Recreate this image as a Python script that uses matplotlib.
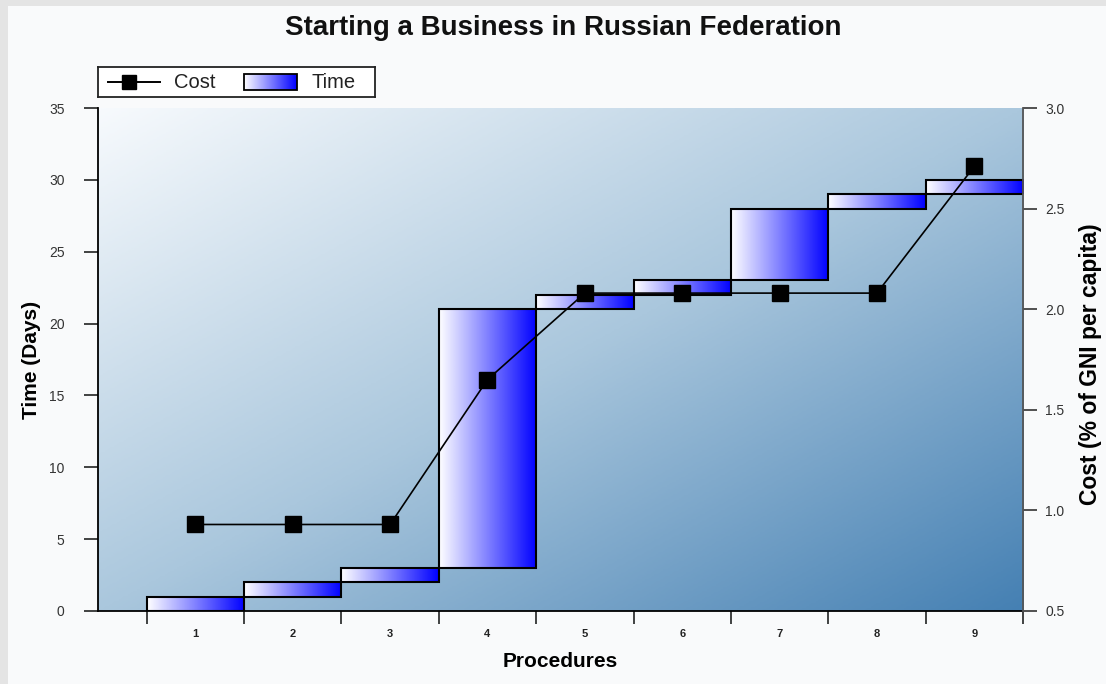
import numpy as np
import matplotlib.pyplot as plt
from matplotlib.colors import LinearSegmentedColormap
from matplotlib.patches import Rectangle

plt.rcParams['font.family'] = ['Liberation Sans', 'DejaVu Sans']

# procedures and their time spans (days) plus cumulative cost (% of GNI per capita)
procedures = [1, 2, 3, 4, 5, 6, 7, 8, 9]
time_start = [0, 1, 2, 3, 21, 22, 23, 28, 29]
time_end = [1, 2, 3, 21, 22, 23, 28, 29, 30]
cost = [0.93, 0.93, 0.93, 1.65, 2.08, 2.08, 2.08, 2.08, 2.71]

time_ticks = [0, 5, 10, 15, 20, 25, 30, 35]
cost_ticks = [0.5, 1.0, 1.5, 2.0, 2.5, 3.0]

bar_cmap = LinearSegmentedColormap.from_list('bar', ['#ffffff', '#0000ff'])
bg_cmap = LinearSegmentedColormap.from_list('bg', ['#f7fafd', '#aac7dd', '#4580b3'])

fig = plt.figure(figsize=(11.06, 6.84), dpi=100, facecolor='#f9fafb')
# grey frame strips on the left and top
fig.patches.append(Rectangle((0, 0), 8 / 1106, 1, transform=fig.transFigure,
                             facecolor='#e4e4e4', edgecolor='none', zorder=-5))
fig.patches.append(Rectangle((0, 1 - 6 / 684), 1, 6 / 684, transform=fig.transFigure,
                             facecolor='#e4e4e4', edgecolor='none', zorder=-5))

ax = fig.add_axes([98 / 1106, 1 - 611 / 684, 925 / 1106, 503 / 684])

# diagonal background shading of the plot area
u = np.linspace(0, 1, 400)[None, :]
v = np.linspace(0, 1, 300)[:, None]
ax.imshow((u + v) / 2, cmap=bg_cmap, vmin=0, vmax=1, aspect='auto',
          extent=(0, 1, 0, 1), transform=ax.transAxes, zorder=0, origin='upper')

# floating time bars with a white-to-blue fill
heights = [e - s for s, e in zip(time_start, time_end)]
bars = ax.bar(procedures, heights, bottom=time_start, width=1.0,
              facecolor='none', edgecolor='black', linewidth=1.5, zorder=3)
grad = np.linspace(0, 1, 256)[None, :]
for b in bars:
    x0, y0 = b.get_x(), b.get_y()
    ax.imshow(grad, cmap=bar_cmap, aspect='auto', zorder=2,
              extent=(x0, x0 + b.get_width(), y0, y0 + b.get_height()))

ax.set_xlim(0, 9.5)
ax.set_ylim(0, 35)
ax.set_yticks(time_ticks)
ax.set_xticks(np.arange(0.5, 10, 1.0))
ax.set_xticklabels([])
ax.set_xticks(procedures, minor=True)
ax.set_xticklabels([str(p) for p in procedures], minor=True,
                   fontsize=8, fontweight='bold', color='#222222')
ax.tick_params(axis='x', which='major', direction='out', length=9, width=1.2, color='#222222')
ax.tick_params(axis='x', which='minor', length=0, pad=13)
ax.tick_params(axis='y', direction='out', length=10, width=1.2, color='#222222',
               labelsize=10, labelcolor='#333333', pad=14)
for s in ['top', 'right']:
    ax.spines[s].set_visible(False)
for s in ['left', 'bottom']:
    ax.spines[s].set_linewidth(1.3)
ax.set_ylabel('Time (Days)', fontsize=15, fontweight='bold', labelpad=6)
ax.set_xlabel('Procedures', fontsize=15, fontweight='bold', labelpad=9)

# cost on the right hand axis
ax2 = ax.twinx()
ax2.plot(procedures, cost, color='black', linewidth=1.2, marker='s',
         markersize=11, markerfacecolor='black', zorder=5)
ax2.set_ylim(0.5, 3.0)
ax2.set_yticks(cost_ticks)
ax2.set_yticklabels(['%.1f' % c for c in cost_ticks])
ax2.tick_params(axis='y', direction='out', length=10, width=1.2, color='#333333',
                labelsize=10, labelcolor='#333333', pad=6)
for s in ['top', 'left', 'bottom']:
    ax2.spines[s].set_visible(False)
ax2.spines['right'].set_color('#555555')
ax2.spines['right'].set_linewidth(1.3)
ax2.set_ylabel('Cost (% of GNI per capita)', fontsize=16.5, fontweight='bold')
ax2.yaxis.set_label_coords(1.060, 0.49)

fig.text(563 / 1106, 1 - 28 / 684, 'Starting a Business in Russian Federation',
         ha='center', va='center', fontsize=20, fontweight='bold', color='#111111')

# legend drawn by hand so the time swatch can carry the gradient
lg = fig.add_axes([98 / 1106, 1 - 97 / 684, 277 / 1106, 30 / 684])
lg.set_xticks([])
lg.set_yticks([])
for s in lg.spines.values():
    s.set_linewidth(1.3)
    s.set_color('#222222')
lg.set_facecolor('white')
lg.plot([10, 62], [15, 15], color='black', linewidth=1.4)
lg.plot([31], [15], marker='s', markersize=10, color='black')
lg.text(76, 15, 'Cost', va='center', ha='left', fontsize=14.5, color='#222222')
lg.imshow(grad, cmap=bar_cmap, aspect='auto', extent=(146, 199, 7, 23), zorder=2)
lg.add_patch(Rectangle((146, 7), 53, 16, facecolor='none', edgecolor='black',
                       linewidth=1.3, zorder=3))
lg.text(213, 15, 'Time', va='center', ha='left', fontsize=14.5, color='#222222')
lg.set_xlim(0, 277)
lg.set_ylim(0, 30)

fig.savefig('out.png', dpi=100, facecolor=fig.get_facecolor())
